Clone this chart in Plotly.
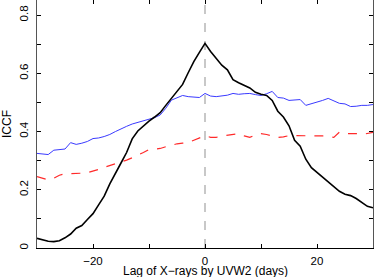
import plotly.graph_objects as go

lags = list(range(-30, 31))

iccf_black = [0.033, 0.028, 0.023, 0.022, 0.025, 0.035, 0.048, 0.068, 0.077, 0.098,
              0.118, 0.148, 0.178, 0.220, 0.258, 0.292, 0.328, 0.375, 0.402, 0.420,
              0.436, 0.450, 0.465, 0.490, 0.515, 0.538, 0.562, 0.602, 0.640, 0.672,
              0.703, 0.675, 0.650, 0.628, 0.612, 0.578, 0.568, 0.560, 0.550, 0.535,
              0.528, 0.524, 0.507, 0.470, 0.450, 0.420, 0.370, 0.350, 0.305, 0.276,
              0.260, 0.244, 0.228, 0.212, 0.195, 0.185, 0.180, 0.170, 0.157, 0.143,
              0.138]

iccf_blue = [0.325, 0.323, 0.321, 0.336, 0.338, 0.340, 0.362, 0.356, 0.360, 0.366,
             0.376, 0.378, 0.383, 0.390, 0.400, 0.410, 0.418, 0.426, 0.432, 0.436,
             0.442, 0.448, 0.457, 0.480, 0.508, 0.515, 0.524, 0.520, 0.518, 0.517,
             0.531, 0.522, 0.520, 0.522, 0.525, 0.531, 0.528, 0.530, 0.531, 0.527,
             0.524, 0.530, 0.538, 0.517, 0.515, 0.507, 0.508, 0.510, 0.490, 0.495,
             0.500, 0.507, 0.514, 0.505, 0.497, 0.495, 0.486, 0.487, 0.490, 0.490,
             0.493]

iccf_red = [0.245, 0.240, 0.234, 0.240, 0.250, 0.255, 0.255, 0.255, 0.257, 0.259,
            0.264, 0.270, 0.277, 0.283, 0.290, 0.296, 0.302, 0.310, 0.318, 0.328,
            0.338, 0.340, 0.342, 0.348, 0.353, 0.358, 0.360, 0.362, 0.370, 0.379,
            0.386, 0.380, 0.380, 0.385, 0.388, 0.392, 0.393, 0.385, 0.380, 0.388,
            0.393, 0.390, 0.385, 0.380, 0.382, 0.386, 0.386, 0.386, 0.385, 0.385,
            0.386, 0.385, 0.383, 0.380, 0.398, 0.393, 0.393, 0.393, 0.390, 0.393,
            0.397]

x_tickvals = [-20, -10, 0, 10, 20]
x_ticktext = ["\u221220", "", "0", "", "20"]
y_tickvals = [0, 0.1, 0.2, 0.3, 0.4, 0.5, 0.6, 0.7, 0.8]
y_ticktext = ["0", "", "0.2", "", "0.4", "", "0.6", "", "0.8"]
x_title = "Lag of X\u2212rays by UVW2 (days)"
y_title = "ICCF"

fig = go.Figure()
fig.add_trace(go.Scatter(x=lags, y=iccf_blue, mode="lines",
                         line=dict(color="#3a3aff", width=1), showlegend=False))
fig.add_trace(go.Scatter(x=lags, y=iccf_red, mode="lines",
                         line=dict(color="#ff2a2a", width=1.2, dash="dash"), showlegend=False))
fig.add_trace(go.Scatter(x=lags, y=iccf_black, mode="lines",
                         line=dict(color="black", width=1.6), showlegend=False))

fig.add_shape(type="line", xref="x", yref="paper", x0=0, x1=0, y0=0, y1=1,
              line=dict(color="#c8c8c8", width=2, dash="dash"), layer="below")

fig.add_annotation(text=x_title, xref="paper", yref="paper", x=0.5, y=0,
                   xanchor="center", yanchor="middle", yshift=-22.5, showarrow=False,
                   font=dict(size=12))
fig.add_annotation(text=y_title, xref="paper", yref="paper", x=0, y=0.5,
                   xanchor="center", yanchor="middle", xshift=-30, textangle=-90,
                   showarrow=False, font=dict(size=12))

font = dict(family="Liberation Sans, Arial, sans-serif", size=12, color="black")
fig.update_layout(
    width=374, height=277,
    margin=dict(l=37, r=1, t=0, b=29),
    paper_bgcolor="white", plot_bgcolor="white",
    font=font,
    xaxis=dict(range=[-30, 30], tickvals=x_tickvals, ticktext=x_ticktext,
               ticks="inside", ticklen=4, tickcolor="black", mirror="ticks",
               showline=True, linecolor="black", linewidth=1, showgrid=False,
               zeroline=False, tickfont=dict(size=11.5), automargin=False,
               ticklabelstandoff=2),
    yaxis=dict(range=[0, 0.852], tickvals=y_tickvals, ticktext=y_ticktext,
               ticks="inside", ticklen=4, tickcolor="black", mirror="ticks",
               showline=True, linecolor="#555555", linewidth=1, showgrid=False,
               zeroline=False, tickangle=-90, tickfont=dict(size=11.5), automargin=False,
               ticklabelstandoff=3),
)

fig.write_html("out.html", config={"displayModeBar": False},
               post_script="document.body.style.margin='0';document.body.style.overflow='hidden';")
